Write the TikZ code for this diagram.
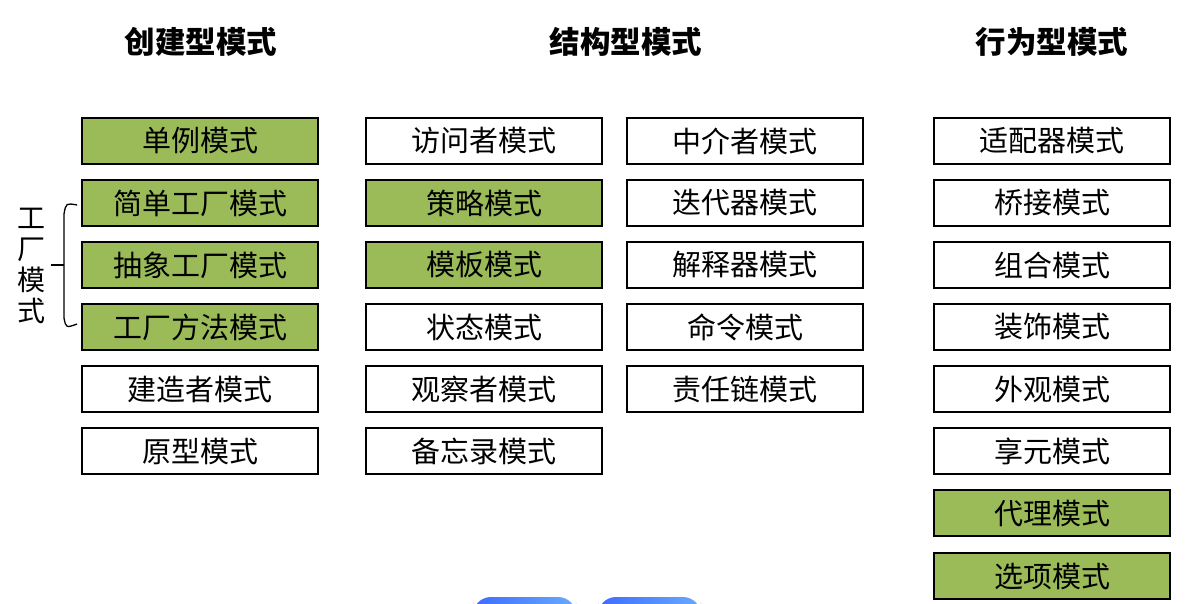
\documentclass[tikz,border=0pt]{standalone}
\usepackage{fontspec}
\setmainfont{Noto Sans CJK SC}
\usetikzlibrary{positioning}
\definecolor{PatternGreen}{RGB}{155,187,89}
\definecolor{BtnBlueA}{RGB}{62,108,255}
\definecolor{BtnBlueB}{RGB}{104,170,255}

\tikzset{
  pattern/.style={draw=black, line width=1.8pt, minimum width=236pt, minimum height=46pt,
    inner sep=0pt, font=\fontsize{29}{29}\selectfont},
  picked/.style={pattern, fill=PatternGreen},
  heading/.style={font=\fontsize{30.5}{30.5}\selectfont\bfseries},
}

\begin{document}
\begin{tikzpicture}[x=1pt, y=-1pt]
  \useasboundingbox (0,0) rectangle (1190,603);
  \clip (0,0) rectangle (1190,603);

  % Column headings
  \node[heading] (hCreate) at (201,42) {创建型模式};
  \node[heading] (hStruct) at (626,42) {结构型模式};
  \node[heading] (hBehave) at (1052,42) {行为型模式};

  % Creational column
  \node[picked]  (singleton) at (200,141) {单例模式};
  \node[picked]  (simpleFac) at (200,203) {简单工厂模式};
  \node[picked]  (abstFac)   at (200,265) {抽象工厂模式};
  \node[picked]  (facMethod) at (200,327) {工厂方法模式};
  \node[pattern] (builder)   at (200,389) {建造者模式};
  \node[pattern] (prototype) at (200,451) {原型模式};

  % Structural columns
  \node[pattern] (visitor)   at (484,141) {访问者模式};
  \node[picked]  (strategy)  at (484,203) {策略模式};
  \node[picked]  (template)  at (484,265) {模板模式};
  \node[pattern] (state)     at (484,327) {状态模式};
  \node[pattern] (observer)  at (484,389) {观察者模式};
  \node[pattern] (memento)   at (484,451) {备忘录模式};

  \node[pattern] (mediator)  at (745,141) {中介者模式};
  \node[pattern] (iterator)  at (745,203) {迭代器模式};
  \node[pattern] (interp)    at (745,265) {解释器模式};
  \node[pattern] (command)   at (745,327) {命令模式};
  \node[pattern] (chain)     at (745,389) {责任链模式};

  % Behavioural column
  \node[pattern] (adapter)   at (1052,141) {适配器模式};
  \node[pattern] (bridge)    at (1052,203) {桥接模式};
  \node[pattern] (composite) at (1052,265) {组合模式};
  \node[pattern] (decorator) at (1052,327) {装饰模式};
  \node[pattern] (facade)    at (1052,389) {外观模式};
  \node[pattern] (flyweight) at (1052,451) {享元模式};
  \node[picked]  (proxy)     at (1052,513) {代理模式};
  \node[picked]  (option)    at (1052,576) {选项模式};

  % Brace for the factory group
  \coordinate (braceTop) at ([xshift=-4pt,yshift=-2pt]simpleFac.west);
  \coordinate (braceBot) at ([xshift=-4pt,yshift=3pt]facMethod.west);
  \coordinate (braceMid) at (64,265);
  \draw[line width=1.3pt] (braceTop) .. controls (66,203) .. (64,214) -- (64,318)
    .. controls (66,328) .. (braceBot);
  \draw[line width=1.3pt] (51,265) -- (braceMid);
  \node[font=\fontsize{28}{31}\selectfont, align=center, inner sep=0pt] (facLabel) at (31,266)
    {工\\厂\\模\\式};

  % Buttons cut off at the bottom edge
  \shade[left color=BtnBlueA, right color=BtnBlueB, rounded corners=18pt]
    (473,620) rectangle (576,597);
  \shade[left color=BtnBlueA, right color=BtnBlueB, rounded corners=18pt]
    (598,620) rectangle (701,597);
\end{tikzpicture}
\end{document}
